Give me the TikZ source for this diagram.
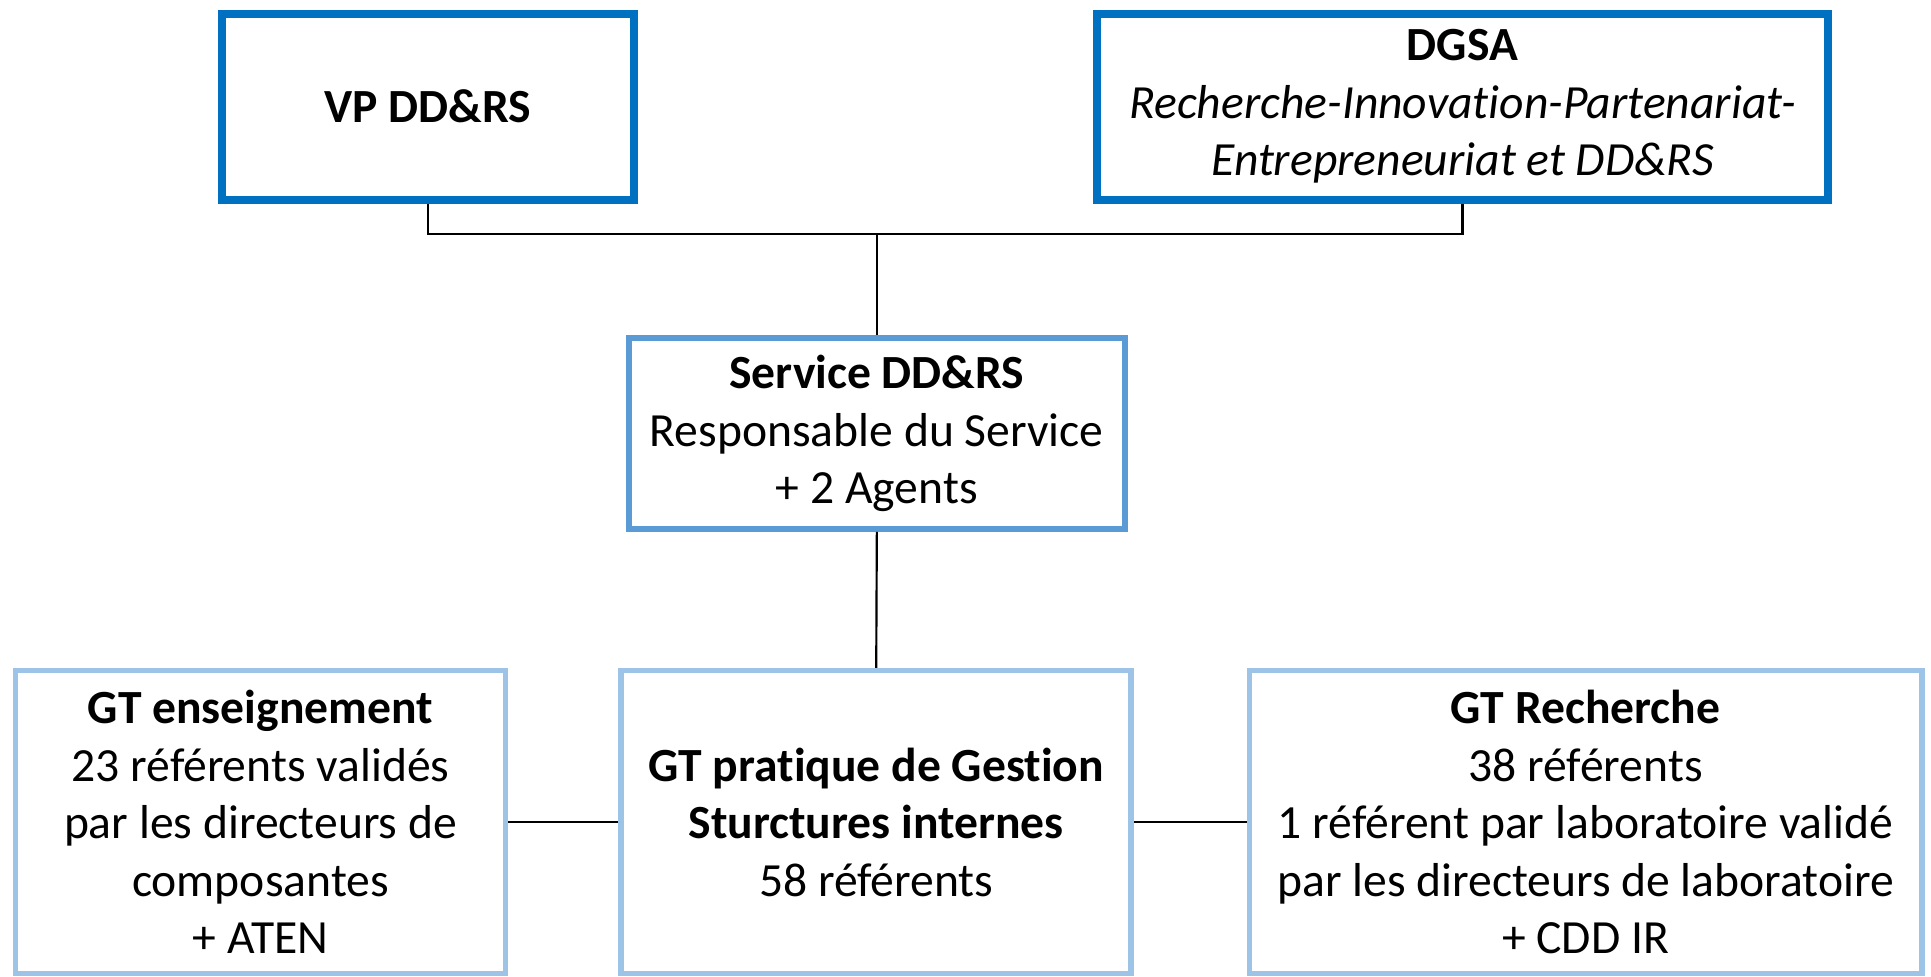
\documentclass[tikz,border=0pt]{standalone}
\usepackage{fontspec}
\setmainfont{Carlito}[RawFeature={-liga;-clig;-calt;-dlig}]
\usetikzlibrary{positioning,calc}

\definecolor{vpblue}{HTML}{0070C0}
\definecolor{svcblue}{HTML}{5B9BD5}
\definecolor{gtblue}{HTML}{9DC3E6}

\begin{document}
\begin{tikzpicture}[
  box/.style = {draw, fill=white, align=center, inner sep=2pt,
                font=\fontsize{11pt}{13.3pt}\selectfont},
  topbox/.style = {box, draw=vpblue, line width=1.85pt, minimum height=1.51cm},
  svcbox/.style = {box, draw=svcblue, line width=1.4pt, minimum height=1.55cm},
  gtbox/.style = {box, draw=gtblue, line width=1.3pt, minimum height=2.46cm},
  link/.style = {draw=black, line width=0.5pt}
]
  % Frame
  \useasboundingbox (0,0) rectangle (15.68,-7.93);

  % Top level
  \node[topbox, minimum width=3.35cm] (vp) at (3.475,-0.865) {\textbf{VP DD\&RS}};
  \node[topbox, minimum width=5.93cm] (dgsa) at (11.875,-0.865)
    {\textbf{DGSA}\\ \textit{Recherche-Innovation-Partenariat-}\\ \textit{Entrepreneuriat et DD\&RS}};

  % Service
  \node[svcbox, minimum width=4.03cm] (svc) at (7.12,-3.52)
    {\textbf{Service DD\&RS}\\ Responsable du Service\\ + 2 Agents};

  % Working groups
  \node[gtbox, minimum width=3.98cm] (gtens) at (2.115,-6.675)
    {\textbf{GT enseignement}\\ 23 référents validés\\ par les directeurs de\\ composantes\\ + ATEN};
  \node[gtbox, minimum width=4.14cm] (gtges) at (7.115,-6.675)
    {\textbf{GT pratique de Gestion}\\ \textbf{Sturctures internes}\\ 58 référents};
  \node[gtbox, minimum width=5.46cm] (gtrech) at (12.875,-6.675)
    {\textbf{GT Recherche}\\ 38 référents\\ 1 référent par laboratoire validé\\ par les directeurs de laboratoire\\ + CDD IR};

  % Connectors
  \draw[link] (vp.south) -- ++(0,-0.25) coordinate (bus) -| (dgsa.south);
  \draw[link] (svc.north) -- (svc.north |- bus);
  \draw[link] (svc.south) -- (gtges.north);
  \draw[link] (gtens.east) -- (gtges.west);
  \draw[link] (gtges.east) -- (gtrech.west);
\end{tikzpicture}
\end{document}
